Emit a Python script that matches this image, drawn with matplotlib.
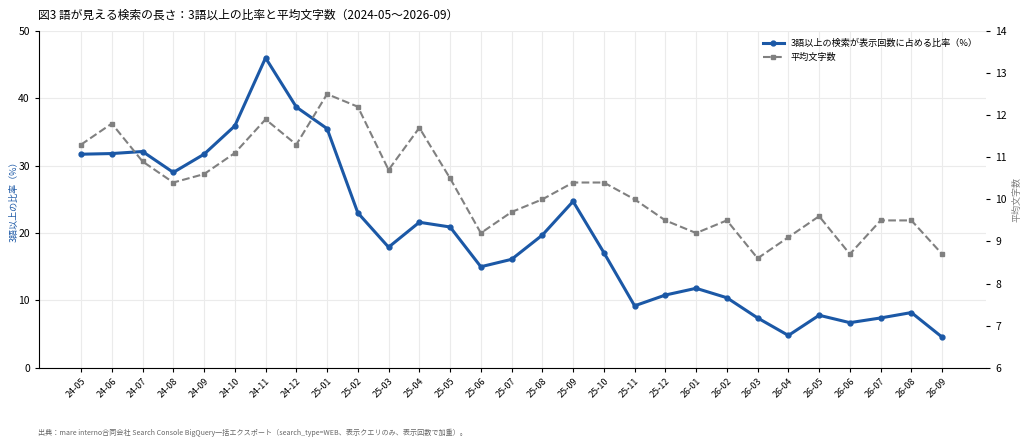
import matplotlib
matplotlib.use("Agg")
import matplotlib.pyplot as plt

plt.rcParams["font.family"] = ["Noto Sans CJK JP", "DejaVu Sans"]

# ── data ──────────────────────────────────────────────────────────────────────

MONTHS = ["24-05", "24-06", "24-07", "24-08", "24-09", "24-10", "24-11", "24-12",
          "25-01", "25-02", "25-03", "25-04", "25-05", "25-06", "25-07", "25-08",
          "25-09", "25-10", "25-11", "25-12", "26-01", "26-02", "26-03", "26-04",
          "26-05", "26-06", "26-07", "26-08", "26-09"]

SHARE_3PLUS = [31.7, 31.8, 32.1, 29.0, 31.7, 35.9, 46.0, 38.7,
               35.5, 23.0, 17.9, 21.6, 20.9, 15.0, 16.1, 19.7,
               24.7, 17.1, 9.2, 10.8, 11.8, 10.4, 7.4, 4.8,
               7.8, 6.7, 7.4, 8.2, 4.55]

AVG_CHARS = [11.3, 11.8, 10.9, 10.4, 10.6, 11.1, 11.9, 11.3,
             12.5, 12.2, 10.7, 11.7, 10.5, 9.2, 9.7, 10.0,
             10.4, 10.4, 10.0, 9.5, 9.2, 9.5, 8.6, 9.1,
             9.6, 8.7, 9.5, 9.5, 8.7]

BLUE = "#1b58a6"
GRAY = "#808080"

# ── plot ──────────────────────────────────────────────────────────────────────

fig = plt.figure(figsize=(10.24, 4.48), dpi=100)
ax = fig.add_axes([0.038, 0.179, 0.925, 0.752])
ax2 = ax.twinx()

x = list(range(len(MONTHS)))
l1, = ax.plot(x, SHARE_3PLUS, "o-", color=BLUE, lw=2.2, ms=3.5,
              label="3語以上の検索が表示回数に占める比率（%）", zorder=3)
l2, = ax2.plot(x, AVG_CHARS, "s--", color=GRAY, lw=1.5, ms=3,
               label="平均文字数", zorder=2)

ax.set_xlim(-1.37, len(MONTHS) - 1 + 1.43)
ax.set_ylim(0, 50)
ax2.set_ylim(6, 14)
ax.set_yticks([0, 10, 20, 30, 40, 50])
ax2.set_yticks(range(6, 15))

ax.set_xticks(x)
ax.set_xticklabels(MONTHS, rotation=45, ha="right", rotation_mode="anchor",
                   fontsize=6.5)
ax.tick_params(axis="y", labelsize=7.5, length=3)
ax.tick_params(axis="x", length=3)
ax2.tick_params(axis="y", labelsize=7.5, length=3)

ax.grid(True, color="#ebebeb", lw=0.8)
ax.set_axisbelow(True)

for a in (ax, ax2):
    a.spines["top"].set_visible(False)
    a.spines["right"].set_visible(False)
ax2.spines["left"].set_visible(False)
ax2.spines["bottom"].set_visible(False)

ax.set_ylabel("3語以上の比率（%）", color=BLUE, fontsize=6.5, labelpad=0)
ax2.set_ylabel("平均文字数", color=GRAY, fontsize=6.5, labelpad=4)

ax.legend(handles=[l1, l2], loc="upper right", frameon=False, fontsize=6.6,
          bbox_to_anchor=(1.0, 1.0), handlelength=2.2)

fig.text(0.037, 0.965, "図3 語が見える検索の長さ：3語以上の比率と平均文字数（2024-05〜2026-09）",
         fontsize=8.5, va="center", ha="left")
fig.text(0.037, 0.033,
         "出典：mare interno合同会社 Search Console BigQuery一括エクスポート（search_type=WEB、表示クエリのみ、表示回数で加重）。",
         fontsize=5.1, color="#666666", va="center", ha="left")

fig.savefig("out.png", dpi=100)
